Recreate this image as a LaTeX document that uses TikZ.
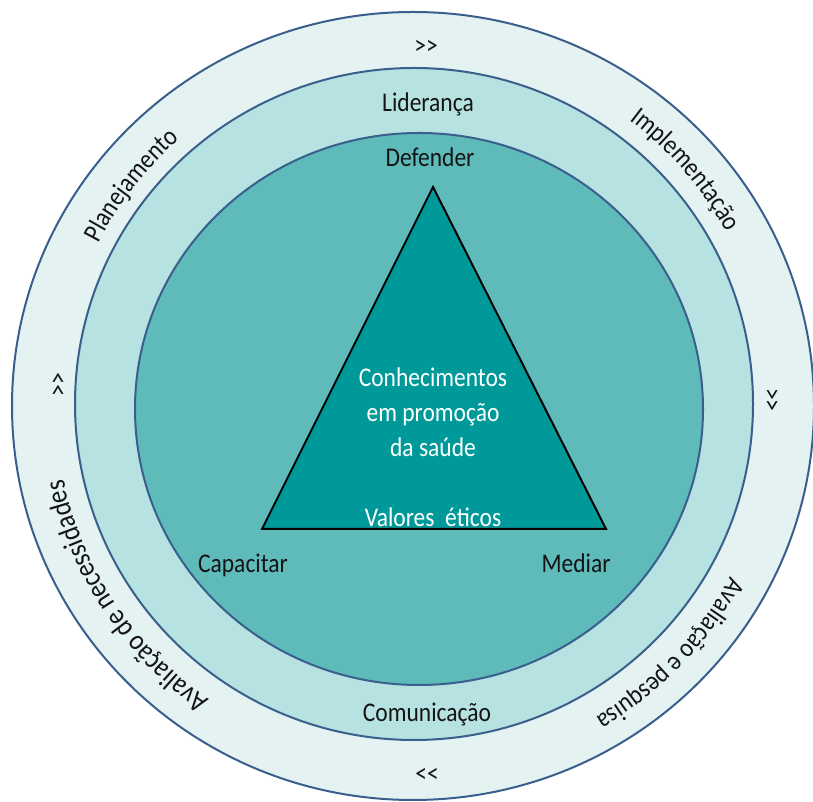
\documentclass[tikz,border=0pt]{standalone}
\usepackage{fontspec}
\setmainfont{Carlito}
\newfontfamily\tallfont{Carlito}[FakeStretch=0.87]
\usetikzlibrary{decorations.text,calc}
\definecolor{ringA}{HTML}{E4F2F2}
\definecolor{ringB}{HTML}{B6E2E1}
\definecolor{ringC}{HTML}{5EBBBA}
\definecolor{triC}{HTML}{009999}
\definecolor{edgeC}{HTML}{3A5F8C}
\definecolor{txtC}{HTML}{141414}
\begin{document}
\begin{tikzpicture}[x=1pt,y=1pt,
  ring/.style={draw=edgeC, line width=2pt},
  lbl/.style={font=\tallfont\fontsize{27}{31}\selectfont, text=txtC, inner sep=0pt,
     text height=19pt, text depth=0pt},
  wlbl/.style={font=\tallfont\fontsize{27}{35}\selectfont, text=white, inner sep=0pt, align=center},
  curv/.style 2 args={decorate, decoration={text along path, text align=center, text color=txtC,
     text={|\tallfont\fontsize{#1}{#1}\selectfont|#2}}}
]
\useasboundingbox (0,0) rectangle (813,802);
\fill[white] (0,0) rectangle (813,802);
% rings
\path[ring, fill=ringA] (413,396) ellipse [x radius=401, y radius=394];
\path[ring, fill=ringB] (414,398) ellipse [x radius=339, y radius=336];
\path[ring, fill=ringC] (419,393) ellipse [x radius=284, y radius=276];
% triangle
\coordinate (apex) at (433,615);
\coordinate (bl) at (262,273);
\coordinate (br) at (606,273);
\draw[fill=triC, draw=black, line width=2pt, line join=miter] (apex) -- (bl) -- (br) -- cycle;
% triangle texts
\node[wlbl] (know) at (433,390) {Conhecimentos\\em promoção\\da saúde};
\node[wlbl] (eth) at (433,285) {Valores\ \ éticos};
% labels
\node[lbl] (def) at (430,645) {Defender};
\node[lbl] (cap) at (243,239) {Capacitar};
\node[lbl] (med) at (576,239) {Mediar};
\node[lbl] (lid) at (428,700) {Liderança};
\node[lbl] (com) at (427,90) {Comunicação};
% arrows in the outer ring
\node[lbl] (atop) at (426,757) {>\kern0pt>};
\node[lbl] (abot) at (427,29) {<\kern0pt<};
\node[lbl, rotate=90] (aleft) at (57,417) {>\kern0pt>};
\node[lbl, rotate=-90] (aright) at (773,402) {>\kern0pt>};
% curved texts (clockwise, tops outward)
\coordinate (c) at (414,396);
\path[curv={27}{Planejamento}] ($(c)+(172:355)$) arc[start angle=172, end angle=112, radius=355];
\path[curv={27}{Implementação}] ($(c)+(71:358)$) arc[start angle=71, end angle=11, radius=358];
\path[curv={29}{Avaliação de necessidades}] ($(c)+(250:358)$) arc[start angle=250, end angle=177, radius=358];
\path[curv={27}{Avaliação e pesquisa}] ($(c)+(-14:360)$) arc[start angle=-14, end angle=-74, radius=360];
\end{tikzpicture}
\end{document}
